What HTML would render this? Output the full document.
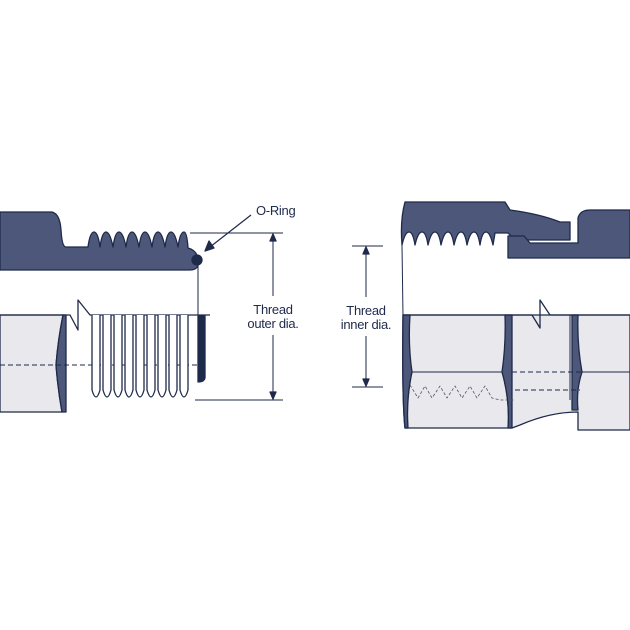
<!DOCTYPE html>
<html><head><meta charset="utf-8"><style>
html,body{margin:0;padding:0;background:#fff;width:630px;height:630px;overflow:hidden}
text{font-family:"Liberation Sans",sans-serif;font-size:13px;fill:#1e2a4a;letter-spacing:-0.3px}
</style></head><body>
<svg width="630" height="630" viewBox="0 0 630 630" xmlns="http://www.w3.org/2000/svg">
<g stroke="#1e2a4a" stroke-width="1.3" stroke-linejoin="round">
<path fill="#4c577a" d="M0 212 L52 212 Q60 214 61 230 Q62 247 66 247 L88 247 Q90 232 94 232 Q98 232 100 247 Q102 232 106 232 Q110 232 113 247 Q115 232 119 232 Q123 232 126 247 Q128 232 132 232 Q136 232 139 247 Q141 232 145 232 Q149 232 152 247 Q154 232 158 232 Q162 232 165 247 Q167 232 171 232 Q175 232 178 247 Q180 232 184 232 Q187 232 188 248 Q196 250 198 258 L198 266 Q196 270 190 270 L0 270 Z"/>
<circle cx="197" cy="260" r="5" fill="#1e2a4a"/>
<line x1="198" y1="265" x2="198" y2="316" stroke-width="1"/>
<path fill="#e8e8ed" d="M0 315 L63 315 Q58 340 56 365 Q58 390 62 412 L0 412 Z"/>
<path fill="#4c577a" d="M63 315 L66 315 L66 412 L62 412 Q58 390 56 365 Q58 340 63 315 Z"/>
<path fill="none" d="M0 315 L70 315 L78 330 L78 300 L90 315 L210 315"/>
<path fill="none" stroke-dasharray="5,3" stroke-width="1" d="M0 365 L198 365"/>
<g fill="#fff">
<path d="M92 315 L92 390 Q96 404 100 390 L100 315 M103 315 L103 390 Q107 404 111 390 L111 315 M114 315 L114 390 Q118 404 122 390 L122 315 M125 315 L125 390 Q129 404 133 390 L133 315 M136 315 L136 390 Q140 404 144 390 L144 315 M147 315 L147 390 Q151 404 155 390 L155 315 M158 315 L158 390 Q162 404 166 390 L166 315 M169 315 L169 390 Q173 404 177 390 L177 315 M180 315 L180 390 Q184 404 188 390 L188 315"/>
</g>
<path fill="#1e2a4a" d="M198 316 L205 316 L205 378 Q204 382 198 382 Z"/>
<line x1="190" y1="233" x2="283" y2="233" stroke-width="1"/>
<line x1="195" y1="400" x2="283" y2="400" stroke-width="1"/>
<line x1="273" y1="234" x2="273" y2="296" stroke-width="1"/>
<line x1="273" y1="335" x2="273" y2="399" stroke-width="1"/>
<path d="M270 241 L273 234 L276 241 Z M270 392 L273 399 L276 392 Z" fill="#1e2a4a"/>
<line x1="251" y1="215" x2="210" y2="247" stroke-width="1.2"/>
<path d="M205 251 L209 241 L214 248 Z" fill="#1e2a4a"/>
<path fill="#4c577a" d="M405 202 L505 202 L510 210 Q540 214 560 222 L570 222 L570 240 L515 240 Q510 235 508 233 L495 233 L493 245 Q490 232 486 232 Q482 232 480 245 Q478 232 474 232 Q470 232 467 245 Q465 232 461 232 Q457 232 454 245 Q452 232 448 232 Q444 232 441 245 Q439 232 435 232 Q431 232 428 245 Q426 232 422 232 Q418 232 415 245 Q413 232 409 232 Q405 232 402 245 Q400 220 405 202 Z"/>
<path fill="#4c577a" d="M508 236 L524 236 L530 243 L578 243 L578 218 Q580 210 590 210 L630 210 L630 258 L508 258 Z"/>
<line x1="402" y1="245" x2="403" y2="316" stroke-width="1"/>
<path fill="#e8e8ed" d="M403 315 L630 315 L630 430 L578 430 L578 412 Q550 412 520 425 L512 428 L405 428 Q402 400 403 315 Z"/>
<path fill="#4c577a" d="M403 315 L410 315 Q408 345 412 372 Q406 400 408 428 L405 428 Q402 400 403 315 Z"/>
<path fill="#4c577a" d="M505 315 L512 315 L512 428 L508 428 Q510 400 502 372 Q506 345 505 315 Z"/>
<path fill="#4c577a" d="M572 315 L578 315 Q577 345 582 372 Q576 390 578 410 L572 410 Z"/>
<path fill="none" d="M403 315 L532 315 L540 328 L540 300 L550 315 L630 315"/>
<path fill="none" stroke-width="1" d="M412 372 L502 372 M582 372 L630 372 M570 315 L570 400"/>
<path fill="none" stroke-width="1" stroke-dasharray="5,3" d="M512 372 L582 372 M515 390 L580 390"/>
<path fill="none" stroke-width="0.8" stroke-dasharray="3,2" stroke="#556" d="M410 385 L418 398 L425 386 L432 398 L440 386 L447 398 L455 386 L462 398 L470 386 L477 398 L485 386 L492 398 L500 400 L515 400"/>
<path fill="none" stroke-width="1" d="M412 372 Q406 400 408 428 M502 372 Q510 400 508 428"/>
<line x1="352" y1="246" x2="383" y2="246" stroke-width="1"/>
<line x1="352" y1="387" x2="383" y2="387" stroke-width="1"/>
<line x1="366" y1="247" x2="366" y2="297" stroke-width="1"/>
<line x1="366" y1="336" x2="366" y2="386" stroke-width="1"/>
<path d="M363 254 L366 247 L369 254 Z M363 379 L366 386 L369 379 Z" fill="#1e2a4a"/>
</g>
<text x="256" y="215">O-Ring</text>
<text x="273" y="314" text-anchor="middle">Thread</text>
<text x="273" y="328" text-anchor="middle">outer dia.</text>
<text x="366" y="315" text-anchor="middle">Thread</text>
<text x="366" y="329" text-anchor="middle">inner dia.</text>
</svg>
</body></html>
